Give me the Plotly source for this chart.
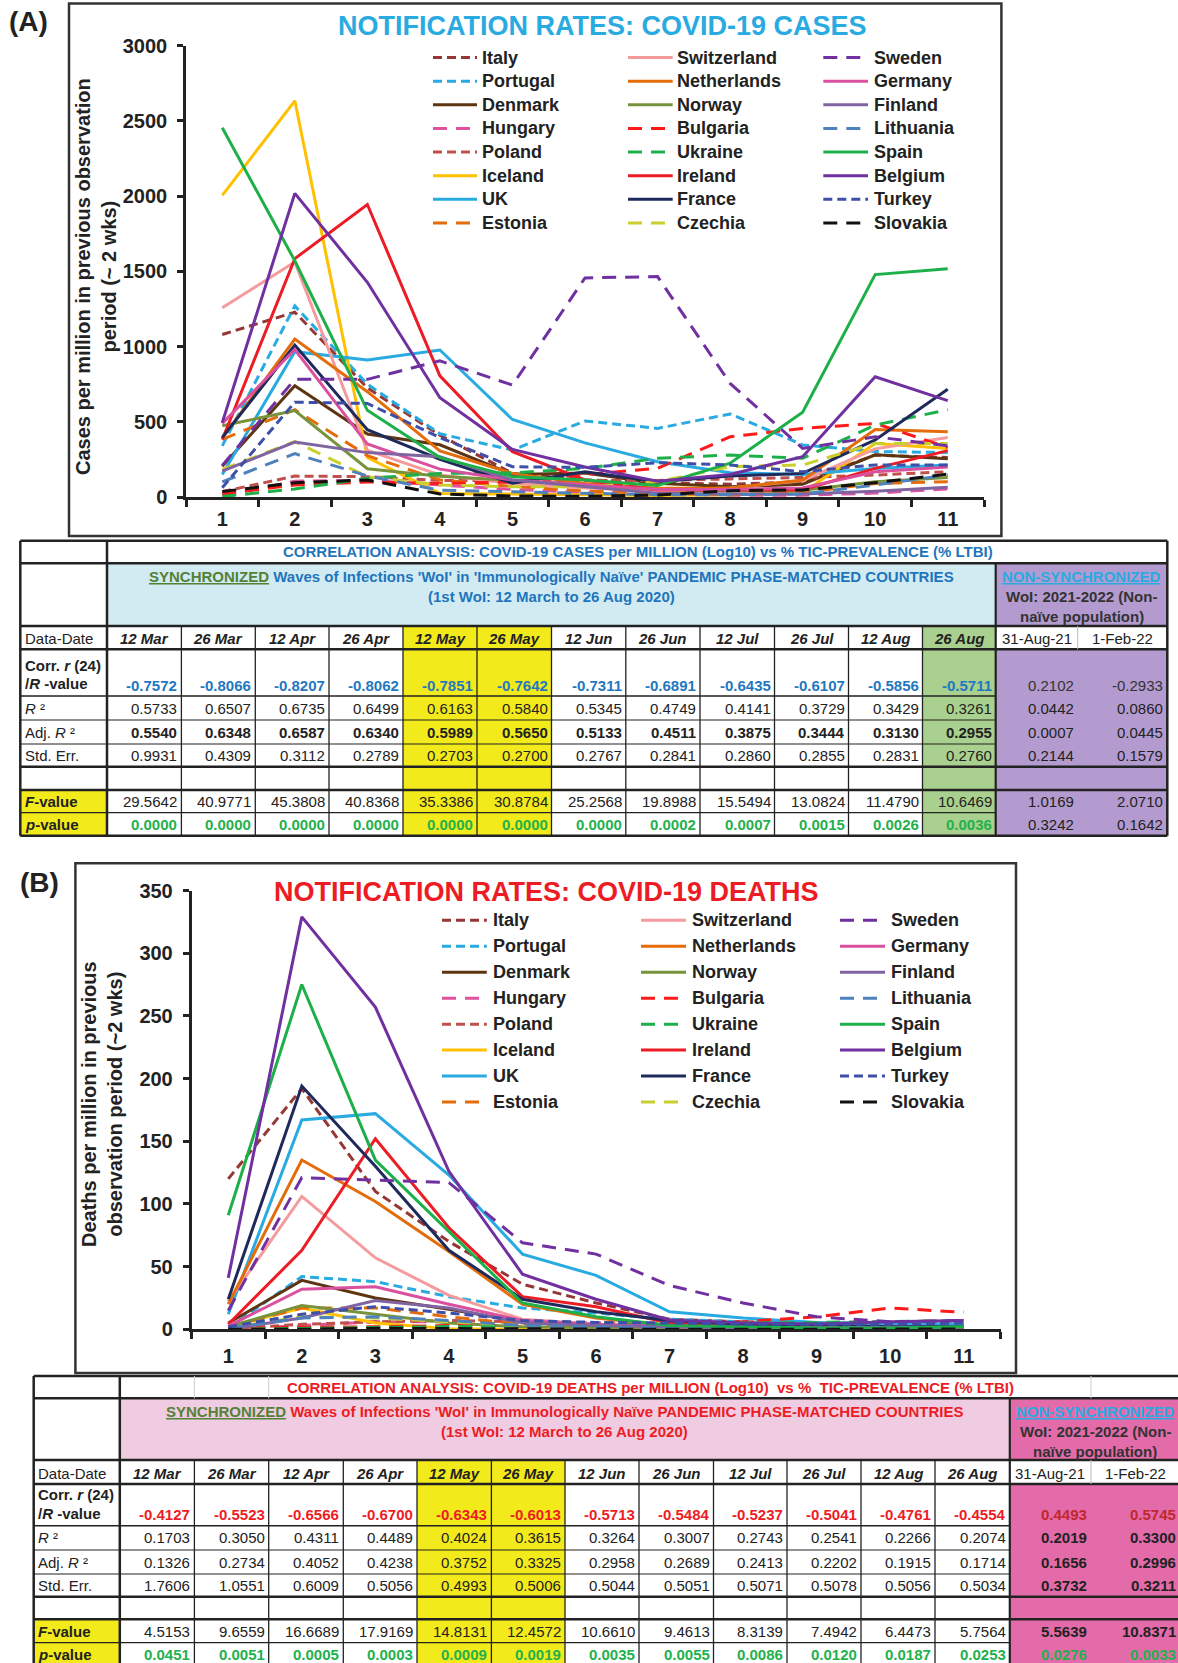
import plotly.graph_objects as go

W, H = 1178, 1663
FONT = "Liberation Sans, Arial, Helvetica, sans-serif"
INK = "#222222"

# ---------------------------------------------------------------- data
periods = [str(k) for k in range(1, 12)]

countries = ["Italy", "Portugal", "Denmark", "Hungary", "Poland", "Iceland", "UK", "Estonia",
             "Switzerland", "Netherlands", "Norway", "Bulgaria", "Ukraine", "Ireland", "France", "Czechia",
             "Sweden", "Germany", "Finland", "Lithuania", "Spain", "Belgium", "Turkey", "Slovakia"]

# Cases per million in the previous observation period (~2 weeks)
cases_italy = [1080, 1228, 725, 410, 157, 115, 95, 85, 100, 279, 262]
cases_portugal = [340, 1270, 750, 420, 312, 505, 456, 552, 346, 302, 296]
cases_denmark = [205, 740, 418, 347, 150, 160, 92, 68, 85, 280, 255]
cases_hungary = [10, 105, 110, 80, 50, 30, 20, 12, 12, 26, 53]
cases_poland = [35, 139, 135, 110, 110, 110, 110, 120, 130, 146, 168]
cases_iceland = [2004, 2633, 262, 24, 20, 13, 10, 15, 30, 356, 323]
cases_uk = [150, 966, 910, 977, 515, 360, 234, 161, 150, 190, 212]
cases_estonia = [383, 580, 275, 113, 70, 40, 25, 15, 30, 90, 102]
cases_switzerland = [1258, 1562, 310, 146, 90, 60, 45, 60, 110, 320, 396]
cases_netherlands = [390, 1050, 700, 307, 157, 90, 58, 60, 113, 449, 434]
cases_norway = [474, 574, 188, 138, 110, 80, 50, 40, 45, 102, 130]
cases_bulgaria = [20, 80, 100, 90, 100, 150, 190, 400, 456, 489, 330]
cases_ukraine = [3, 53, 124, 157, 160, 190, 257, 279, 257, 478, 580]
cases_ireland = [382, 1584, 1944, 805, 301, 113, 47, 47, 47, 190, 308]
cases_france = [396, 1010, 447, 250, 92, 168, 102, 139, 157, 379, 716]
cases_czechia = [183, 368, 135, 80, 68, 68, 102, 202, 213, 356, 356]
cases_sweden = [210, 782, 782, 905, 744, 1456, 1465, 755, 323, 400, 340]
cases_germany = [489, 980, 352, 185, 113, 80, 50, 50, 60, 168, 200]
cases_finland = [172, 365, 295, 268, 113, 68, 25, 20, 20, 38, 64]
cases_lithuania = [101, 288, 140, 45, 35, 25, 15, 15, 20, 80, 146]
cases_spain = [2454, 1570, 576, 262, 135, 113, 77, 225, 564, 1478, 1517]
cases_belgium = [494, 2018, 1427, 660, 316, 200, 105, 150, 268, 799, 640]
cases_turkey = [62, 630, 622, 395, 201, 197, 228, 213, 168, 213, 213]
cases_slovakia = [36, 95, 113, 20, 7, 5, 13, 42, 47, 95, 152]

# Deaths per million in the previous observation period (~2 weeks)
deaths_italy = [120, 192, 110, 70, 36, 21, 8, 6, 5, 4, 4]
deaths_portugal = [1, 42, 38, 26, 17, 13, 8, 6, 5, 4, 3]
deaths_denmark = [5, 39, 25, 16, 6, 3, 2, 1, 1, 1, 1]
deaths_hungary = [0, 3, 6, 6, 4, 3, 2, 2, 2, 2, 2]
deaths_poland = [0.5, 4, 6, 7, 6, 5, 5, 5, 5, 4, 4]
deaths_iceland = [2, 17, 5, 0.5, 0, 0, 0, 0, 0, 0, 0]
deaths_uk = [12, 167, 172, 123, 60, 43, 14, 9, 5.5, 4.5, 4]
deaths_estonia = [2, 17, 17, 10, 4, 2, 1, 1, 0.5, 0.5, 0.5]
deaths_switzerland = [22, 106, 57, 27, 8, 4, 2, 1, 1, 1, 1]
deaths_netherlands = [20, 135, 102, 62, 20, 9, 3, 2, 1, 1, 1.5]
deaths_norway = [2, 19, 12, 5, 2, 1, 0.5, 0.3, 0.3, 0.3, 0.3]
deaths_bulgaria = [0.5, 1.6, 2, 3, 3, 3, 4, 6, 10, 17, 13.5]
deaths_ukraine = [0, 0.8, 1.3, 2, 3, 3.5, 4.5, 5, 5.5, 6.1, 6.9]
deaths_ireland = [4, 63, 152, 81, 26, 18, 5, 3, 1, 1, 1]
deaths_france = [24, 194, 130, 63, 24, 14, 7, 4, 3, 2, 2]
deaths_czechia = [1, 10, 9, 6, 3, 2, 1, 1, 1, 1, 1]
deaths_sweden = [15, 121, 119, 117, 69, 60, 35, 21, 10, 6, 7]
deaths_germany = [2.6, 32, 34, 20, 7, 4, 2, 1, 1, 1, 1]
deaths_finland = [0, 9, 23, 17, 5, 3, 2, 1, 1, 1, 1]
deaths_lithuania = [1, 9, 10, 7, 3, 2, 1, 1, 1, 1, 1]
deaths_spain = [91, 275, 135, 78, 21, 10, 3, 2, 1, 1, 2]
deaths_belgium = [41, 329, 257, 126, 44, 24, 7.5, 5, 4.2, 6, 7]
deaths_turkey = [2, 12, 18, 13, 7, 5.5, 5, 4, 4, 4, 5]
deaths_slovakia = [0, 0, 0.8, 0.5, 0, 0, 0, 0, 0, 0.3, 0.3]

# Correlation tables: 12 synchronized dates + 2 non-synchronized dates
sync_dates = ["12 Mar", "26 Mar", "12 Apr", "26 Apr", "12 May", "26 May",
              "12 Jun", "26 Jun", "12 Jul", "26 Jul", "12 Aug", "26 Aug"]
nonsync_dates = ["31-Aug-21", "1-Feb-22"]

cases_corr = [-0.7572, -0.8066, -0.8207, -0.8062, -0.7851, -0.7642, -0.7311, -0.6891, -0.6435, -0.6107, -0.5856, -0.5711, 0.2102, -0.2933]
cases_r2 = [0.5733, 0.6507, 0.6735, 0.6499, 0.6163, 0.5840, 0.5345, 0.4749, 0.4141, 0.3729, 0.3429, 0.3261, 0.0442, 0.0860]
cases_adj_r2 = [0.5540, 0.6348, 0.6587, 0.6340, 0.5989, 0.5650, 0.5133, 0.4511, 0.3875, 0.3444, 0.3130, 0.2955, 0.0007, 0.0445]
cases_std_err = [0.9931, 0.4309, 0.3112, 0.2789, 0.2703, 0.2700, 0.2767, 0.2841, 0.2860, 0.2855, 0.2831, 0.2760, 0.2144, 0.1579]
cases_f = [29.5642, 40.9771, 45.3808, 40.8368, 35.3386, 30.8784, 25.2568, 19.8988, 15.5494, 13.0824, 11.4790, 10.6469, 1.0169, 2.0710]
cases_p = [0.0000, 0.0000, 0.0000, 0.0000, 0.0000, 0.0000, 0.0000, 0.0002, 0.0007, 0.0015, 0.0026, 0.0036, 0.3242, 0.1642]

deaths_corr = [-0.4127, -0.5523, -0.6566, -0.6700, -0.6343, -0.6013, -0.5713, -0.5484, -0.5237, -0.5041, -0.4761, -0.4554, 0.4493, 0.5745]
deaths_r2 = [0.1703, 0.3050, 0.4311, 0.4489, 0.4024, 0.3615, 0.3264, 0.3007, 0.2743, 0.2541, 0.2266, 0.2074, 0.2019, 0.3300]
deaths_adj_r2 = [0.1326, 0.2734, 0.4052, 0.4238, 0.3752, 0.3325, 0.2958, 0.2689, 0.2413, 0.2202, 0.1915, 0.1714, 0.1656, 0.2996]
deaths_std_err = [1.7606, 1.0551, 0.6009, 0.5056, 0.4993, 0.5006, 0.5044, 0.5051, 0.5071, 0.5078, 0.5056, 0.5034, 0.3732, 0.3211]
deaths_f = [4.5153, 9.6559, 16.6689, 17.9169, 14.8131, 12.4572, 10.6610, 9.4613, 8.3139, 7.4942, 6.4473, 5.7564, 5.5639, 10.8371]
deaths_p = [0.0451, 0.0051, 0.0005, 0.0003, 0.0009, 0.0019, 0.0035, 0.0055, 0.0086, 0.0120, 0.0187, 0.0253, 0.0276, 0.0033]

cases_series = [cases_italy, cases_portugal, cases_denmark, cases_hungary, cases_poland, cases_iceland,
                cases_uk, cases_estonia, cases_switzerland, cases_netherlands, cases_norway, cases_bulgaria,
                cases_ukraine, cases_ireland, cases_france, cases_czechia, cases_sweden, cases_germany,
                cases_finland, cases_lithuania, cases_spain, cases_belgium, cases_turkey, cases_slovakia]
deaths_series = [deaths_italy, deaths_portugal, deaths_denmark, deaths_hungary, deaths_poland, deaths_iceland,
                 deaths_uk, deaths_estonia, deaths_switzerland, deaths_netherlands, deaths_norway, deaths_bulgaria,
                 deaths_ukraine, deaths_ireland, deaths_france, deaths_czechia, deaths_sweden, deaths_germany,
                 deaths_finland, deaths_lithuania, deaths_spain, deaths_belgium, deaths_turkey, deaths_slovakia]

# ---------------------------------------------------------------- styles
SHORT = "9px,5px"
LONG = "14px,9px"
line_style = {
    "Italy": ("#953735", SHORT), "Portugal": ("#29ABE2", SHORT), "Denmark": ("#5E3511", "solid"),
    "Hungary": ("#E052A0", LONG), "Poland": ("#C0504D", SHORT), "Iceland": ("#FFC000", "solid"),
    "UK": ("#29ABE2", "solid"), "Estonia": ("#E46C0A", LONG), "Switzerland": ("#F59B9E", "solid"),
    "Netherlands": ("#E46C0A", "solid"), "Norway": ("#77933C", "solid"), "Bulgaria": ("#FF1A1A", LONG),
    "Ukraine": ("#1DB04A", LONG), "Ireland": ("#ED1C24", "solid"), "France": ("#1F2A5C", "solid"),
    "Czechia": ("#C9CF2C", LONG), "Sweden": ("#7030A0", LONG), "Germany": ("#DA4F9E", "solid"),
    "Finland": ("#8064A2", "solid"), "Lithuania": ("#4F81BD", LONG), "Spain": ("#1DB04A", "solid"),
    "Belgium": ("#7030A0", "solid"), "Turkey": ("#3F4FA8", SHORT), "Slovakia": ("#111111", LONG),
}

CYAN = "#29ABE2"
RED = "#ED1C24"
BLUE = "#1F75BC"
GREEN_TXT = "#22B14C"
SYNC_GREEN = "#538135"
YELLOW = "#F3EA1C"


def X(p):
    return p / W


def Y(p):
    return 1 - p / H


shapes = []
annotations = []


def text(x, y, s, size=15, color=INK, xanchor="center", yanchor="middle", angle=0, bold=False):
    f = dict(family=FONT, size=size, color=color)
    if bold:
        f["weight"] = "bold"
    annotations.append(dict(x=X(x), y=Y(y), xref="paper", yref="paper", text=s, showarrow=False,
                            font=f, xanchor=xanchor, yanchor=yanchor, textangle=angle,
                            borderpad=0))


def rect(x0, y0, x1, y1, fill=None, color=None, width=0):
    shapes.append(dict(type="rect", xref="paper", yref="paper", x0=X(x0), x1=X(x1), y0=Y(y1), y1=Y(y0),
                       fillcolor=fill if fill else "rgba(0,0,0,0)",
                       line=dict(color=color if color else "rgba(0,0,0,0)", width=width), layer="above"))


def seg(x0, y0, x1, y1, width, color=INK, dash="solid"):
    shapes.append(dict(type="line", xref="paper", yref="paper", x0=X(x0), x1=X(x1), y0=Y(y0), y1=Y(y1),
                       line=dict(color=color, width=width, dash=dash), layer="above"))


fig = go.Figure()

for name, vals in zip(countries, cases_series):
    color, dash = line_style[name]
    fig.add_trace(go.Scatter(x=periods, y=vals, mode="lines", name=name, showlegend=False,
                             line=dict(color=color, width=3, dash=dash), xaxis="x", yaxis="y"))
for name, vals in zip(countries, deaths_series):
    color, dash = line_style[name]
    fig.add_trace(go.Scatter(x=periods, y=vals, mode="lines", name=name, showlegend=False,
                             line=dict(color=color, width=3, dash=dash), xaxis="x2", yaxis="y2"))

tick_font = dict(family=FONT, size=20, color=INK, weight="bold")


def x_axis(domain, anchor, standoff):
    return dict(domain=domain, anchor=anchor, type="category", tickson="boundaries",
                range=[-0.5, len(periods) - 0.5], automargin=False,
                ticks="outside", ticklen=7, tickwidth=2.5, tickcolor=INK, ticklabelstandoff=standoff,
                showline=True, linewidth=2.5, linecolor=INK, showgrid=False, zeroline=False,
                tickfont=tick_font, fixedrange=True)


def y_axis(domain, anchor, top, step):
    return dict(domain=domain, anchor=anchor, range=[0, top], tick0=0, dtick=step, automargin=False,
                ticks="outside", ticklen=6, tickwidth=2.5, tickcolor=INK,
                showline=True, linewidth=2.5, linecolor=INK, showgrid=False, zeroline=False,
                tickfont=tick_font, ticklabelstandoff=6, fixedrange=True)


# ---------------------------------------------------------------- panel frames, titles, legends
def panel(frame, label_xy, label, title_xy, title, title_color, ytitle_xy, ytitle, leg):
    rect(*frame, color="#333333", width=2.5)
    text(label_xy[0], label_xy[1], label, size=28, bold=True)
    text(title_xy[0], title_xy[1], title, size=27, color=title_color, bold=True)
    text(ytitle_xy[0], ytitle_xy[1], ytitle, size=20, bold=True, angle=-90)
    line_x, text_x, y0, dy = leg
    for i, name in enumerate(countries):
        col, row = divmod(i, 8)
        y = y0 + row * dy
        color, dash = line_style[name]
        seg(line_x[col][0], y, line_x[col][1], y, 3, color, dash)
        text(text_x[col], y, name, size=18, xanchor="left", bold=True)


panel((69, 3.5, 1001.4, 536), (28.7, 22), "(A)", (602, 26), "NOTIFICATION RATES: COVID-19 CASES", CYAN,
      (96, 277), "Cases per million in previous observation<br>period (~ 2 wks)",
      ([(433, 477), (628, 672.7), (823.3, 868)], [481.4, 676.5, 872.5], 57.5, 23.64))
panel((75.4, 863.3, 1016, 1373), (39, 882), "(B)", (546, 892), "NOTIFICATION RATES: COVID-19 DEATHS", RED,
      (102, 1104), "Deaths per million in previous<br>observation period (~2 wks)",
      ([(442, 486.8), (641, 686), (840, 885)], [491.8, 690.6, 889.7], 920.3, 25.96))


# ---------------------------------------------------------------- correlation tables
def fmt(v):
    return f"{v:.4f}"


def table(cols, rows, title, title_x, title_color, head_fill, side_fill, green_col, header_lines,
          head_color, side_lines, side_center, values, styles, sep_title=()):
    n_sync = len(sync_dates)
    left, right = cols[0], cols[-1]
    split = cols[1 + n_sync]
    # fills
    rect(cols[1], rows[1], split, rows[2], fill=head_fill)
    rect(split, rows[1], right, rows[2], fill=side_fill)
    rect(cols[5], rows[2], cols[7], rows[10], fill=YELLOW)
    if green_col:
        rect(cols[12], rows[2], cols[13], rows[10], fill="#A9D08E")
    rect(split, rows[3], right, rows[10], fill=side_fill)
    rect(left, rows[8], cols[1], rows[10], fill=YELLOW)
    # horizontal rules
    for r in (0, 1, 2, 3, 7, 8, 10):
        seg(left, rows[r], right, rows[r], 2.5)
    for r in (4, 5, 6, 9):
        seg(left, rows[r], split, rows[r], 1.2 if r != 4 else 1.6)
    # vertical rules
    for c in (left, cols[1], right):
        seg(c, rows[0], c, rows[10], 2.5)
    for c in cols[2:1 + n_sync]:
        seg(c, rows[2], c, rows[10], 1.3)
    seg(split, rows[1], split, rows[10], 2.2)
    seg(cols[-2], rows[2], cols[-2], rows[3], 1, "#BBBBBB")
    for c in sep_title:
        seg(c, rows[0], c, rows[1], 1, "#CCCCCC")
    # title and headers
    text(title_x, (rows[0] + rows[1]) / 2, title, color=title_color, bold=True)
    mid_sync = (cols[1] + split) / 2
    for k, ln in enumerate(header_lines):
        text(mid_sync, rows[1] + 13 + 20 * k, ln, color=head_color, bold=True)
    for k, ln in enumerate(side_lines):
        text(side_center, rows[1] + 13 + 20 * k, ln, color=CYAN if k == 0 else "#333333", bold=True)
    # column headers
    lx = left + 3.5
    text(lx, (rows[2] + rows[3]) / 2 + 1, "Data-Date", xanchor="left")
    for j, d in enumerate(sync_dates + nonsync_dates):
        cx = (cols[j + 1] + cols[j + 2]) / 2
        s = f"<i>{d}</i>" if j < n_sync else d
        text(cx, (rows[2] + rows[3]) / 2 + 1, s, bold=j < n_sync)
    # row labels
    text(lx, rows[4] - 31, "Corr. <i>r</i> (24)", xanchor="left", bold=True)
    text(lx, rows[4] - 12, "/<i>R</i> -value", xanchor="left", bold=True)
    text(lx, (rows[4] + rows[5]) / 2, "<i>R</i> ²", xanchor="left")
    text(lx, (rows[5] + rows[6]) / 2, "Adj. <i>R</i> ²", xanchor="left")
    text(lx, (rows[6] + rows[7]) / 2, "Std. Err.", xanchor="left")
    text(lx, (rows[8] + rows[9]) / 2, "<i>F</i>-value", xanchor="left", bold=True)
    text(lx, (rows[9] + rows[10]) / 2, "<i>p</i>-value", xanchor="left", bold=True)
    # values
    row_y = [rows[4] - 11, (rows[4] + rows[5]) / 2, (rows[5] + rows[6]) / 2, (rows[6] + rows[7]) / 2,
             (rows[8] + rows[9]) / 2, (rows[9] + rows[10]) / 2]
    for series, yv, (sty_sync, sty_side) in zip(values, row_y, styles):
        for j, v in enumerate(series):
            color, bold = sty_sync if j < n_sync else sty_side
            text(cols[j + 2] - 3, yv, fmt(v), color=color, bold=bold, xanchor="right")


cols_a = [20.3, 107, 181.4, 255.3, 329, 403, 477, 551.5, 625.8, 700, 774.5, 848.5, 922.5, 995.7, 1077.7, 1167.3]
rows_a = [540.7, 563.3, 626, 649.3, 696, 720, 744, 766.7, 790, 812.7, 835.7]
table(cols_a, rows_a,
      "CORRELATION ANALYSIS: COVID-19 CASES per MILLION (Log10) vs % TIC-PREVALENCE (% LTBI)", 637.5, BLUE,
      "#D2EBF3", "#B49BCF", True,
      [f"<span style='color:{SYNC_GREEN}'><u>SYNCHRONIZED</u></span> Waves of Infections 'WoI' in "
       "'Immunologically Naïve' PANDEMIC PHASE-MATCHED COUNTRIES",
       "(1st WoI: 12 March to 26 Aug 2020)"], BLUE,
      ["<u>NON-SYNCHRONIZED</u>", "WoI: 2021-2022 (Non-", "naïve population)"], 1081.5,
      [cases_corr, cases_r2, cases_adj_r2, cases_std_err, cases_f, cases_p],
      [(("#1F78C1", True), ("#333333", False)),
       ((INK, False), (INK, False)),
       ((INK, True), (INK, False)),
       ((INK, False), (INK, False)),
       ((INK, False), (INK, False)),
       ((GREEN_TXT, True), (INK, False))])

cols_b = [33.7, 119.8, 194.4, 268.7, 343.3, 417, 491.4, 565, 639, 713.5, 787, 861, 935, 1009.8, 1091, 1180]
rows_b = [1376, 1398.3, 1460, 1484, 1525.7, 1550, 1574, 1596.7, 1619.3, 1642.7, 1666]
table(cols_b, rows_b,
      "CORRELATION ANALYSIS: COVID-19 DEATHS per MILLION (Log10)  vs %  TIC-PREVALENCE (% LTBI)", 650, RED,
      "#EFCCE1", "#E46BAA", False,
      [f"<span style='color:{SYNC_GREEN}'><u>SYNCHRONIZED</u></span> Waves of Infections 'WoI' in "
       "Immunologically Naïve PANDEMIC PHASE-MATCHED COUNTRIES",
       "(1st WoI: 12 March to 26 Aug 2020)"], RED,
      ["<u>NON-SYNCHRONIZED</u>", "WoI: 2021-2022 (Non-", "naïve population)"], 1095,
      [deaths_corr, deaths_r2, deaths_adj_r2, deaths_std_err, deaths_f, deaths_p],
      [((RED, True), ("#C1272D", True)),
       ((INK, False), (INK, True)),
       ((INK, False), (INK, True)),
       ((INK, False), (INK, True)),
       ((INK, False), (INK, True)),
       ((GREEN_TXT, True), (GREEN_TXT, True))],
      sep_title=(cols_b[2], cols_b[3], cols_b[14]))

fig.update_layout(
    width=W, height=H, autosize=False,
    margin=dict(l=0, r=0, t=0, b=0, pad=0, autoexpand=False),
    paper_bgcolor="white", plot_bgcolor="rgba(0,0,0,0)",
    showlegend=False,
    font=dict(family=FONT, color=INK),
    xaxis=x_axis([X(186), X(984)], "y", 2),
    yaxis=y_axis([Y(497), Y(45.6)], "x", 3000, 500),
    xaxis2=x_axis([X(191.5), X(1000.5)], "y2", 7),
    yaxis2=y_axis([Y(1329.3), Y(890.5)], "x2", 350, 50),
    shapes=shapes,
    annotations=annotations,
)

fig.write_html("out.html")
